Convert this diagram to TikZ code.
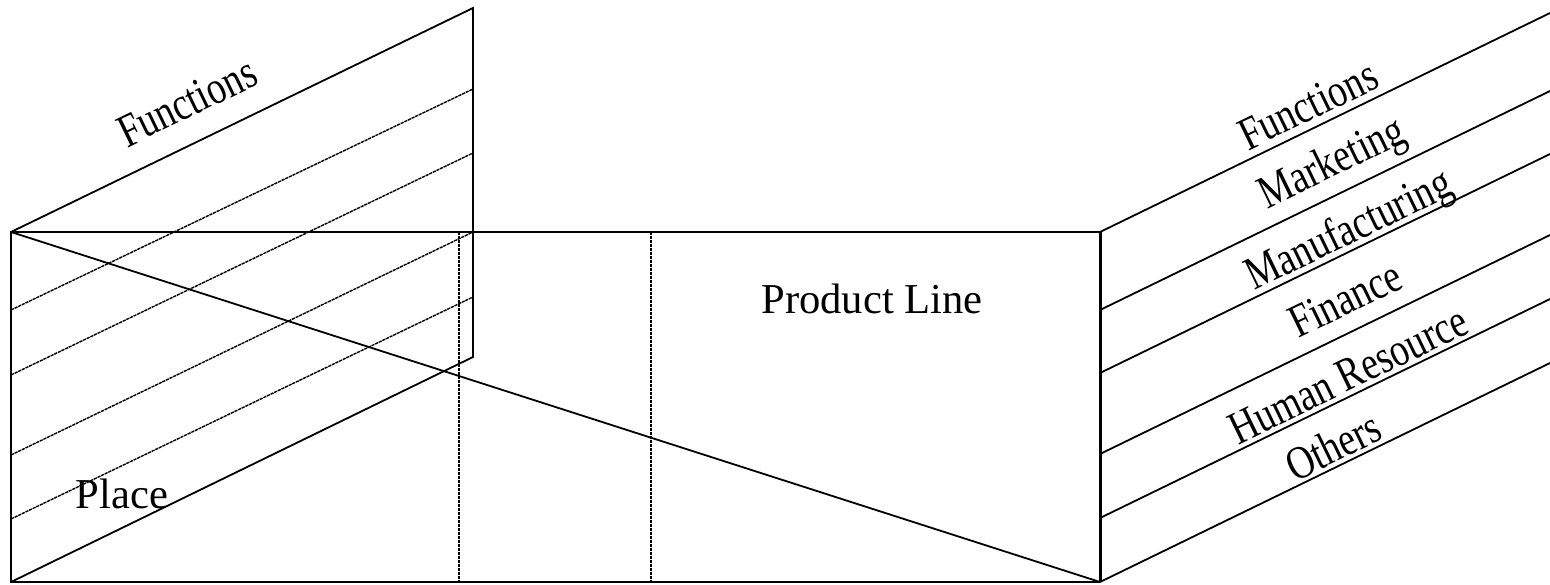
\documentclass[tikz,border=0pt]{standalone}
\usepackage{fontspec}
\usepackage{graphicx}
\setmainfont{Liberation Serif}
\newcommand{\narrowtext}[1]{\scalebox{0.88}[1.1]{#1}}
\begin{document}
\begin{tikzpicture}[x=0.5pt,y=-0.5pt,
  edge/.style={line width=0.9pt},
  boldedge/.style={line width=1.5pt},
  fine/.style={line width=0.7pt,dash pattern=on 1.6pt off 0.4pt},
  lbl/.style={inner sep=0pt,font=\fontsize{21.3}{25}\selectfont},
  slant/.style={lbl,rotate=25.9}]
\useasboundingbox (0,0) rectangle (1550,584);

% front block
\coordinate (tl) at (11,232);
\coordinate (tr) at (1100,232);
\coordinate (br) at (1100,582);
\coordinate (bl) at (11,582);
\draw[edge] (tr) -- (tl) -- (bl) -- (br);
\draw[boldedge] (tr) -- (br);
\draw[edge] (tl) -- (br);

% vertical dividers
\coordinate (v1t) at (459,232); \coordinate (v1b) at (459,582);
\coordinate (v2t) at (651,232); \coordinate (v2b) at (651,582);
\draw[fine] (v1t) -- (v1b);
\draw[fine] (v2t) -- (v2b);

% left slanted panel
\coordinate (pt) at (473,8);
\coordinate (pb) at (473,357);
\draw[edge] (tl) -- (pt) -- (pb) -- (bl);
\foreach \ya/\yb [count=\i] in {310/89,375/153,455/232,519/297}{
  \coordinate (sa\i) at (11,\ya);
  \coordinate (sb\i) at (473,\yb);
  \draw[fine] (sa\i) -- (sb\i);
}

% right slanted strips
\foreach \y [count=\i] in {232,310,373,454,518,582}{
  \coordinate (ra\i) at (1100,\y);
  \coordinate (rb\i) at (1550,\y-219);
  \draw[edge] (ra\i) -- (rb\i);
}

% labels
\node[slant] (fnL) at (187,102) {\narrowtext{Functions}};
\node[lbl] (place) at (122,494) {Place};
\node[lbl,anchor=base] (prod) at (872,313) {Product Line};
\node[slant] (fnR) at (1308,105) {\narrowtext{Functions}};
\node[slant] (mkt) at (1333,165) {\narrowtext{Marketing}};
\node[slant] (mfg) at (1350,232) {\narrowtext{Manufacturing}};
\node[slant] (fin) at (1345,299) {\narrowtext{Finance}};
\node[slant] (hr) at (1348,375) {\narrowtext{Human Resource}};
\node[slant] (oth) at (1333,446) {\narrowtext{Others}};
\end{tikzpicture}
\end{document}
